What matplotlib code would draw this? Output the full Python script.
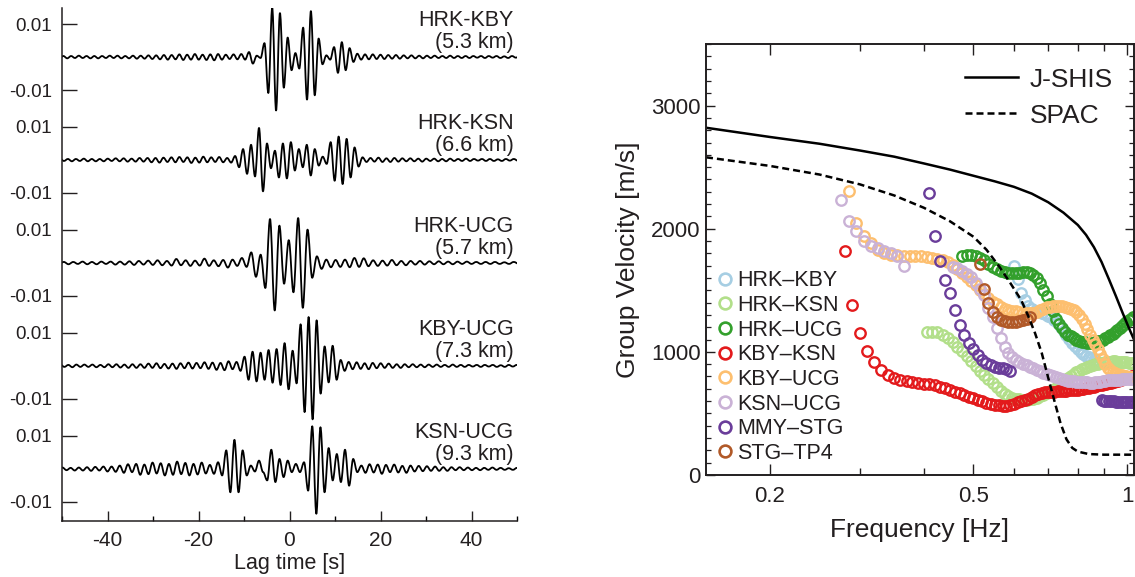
import numpy as np
import matplotlib.pyplot as plt
from matplotlib.lines import Line2D
from matplotlib.path import Path
from matplotlib.patches import PathPatch

plt.rcParams['font.family'] = ['Liberation Sans', 'DejaVu Sans']
plt.rcParams['axes.unicode_minus'] = False
ink = '#231f20'

# ---------------- left panel: cross-correlation traces ----------------
# amplitudes (x1e-3) read at successive wave extrema, left to right
pair_names = ['HRK-KBY', 'HRK-KSN', 'HRK-UCG', 'KBY-UCG', 'KSN-UCG']
pair_dists = ['(5.3 km)', '(6.6 km)', '(5.7 km)', '(7.3 km)', '(9.3 km)']
peak_lag = [-3.8, -6.7, 1.9, 4.2, 5.0]          # lag of largest positive peak [s]
half_period = [0.85, 0.875, 1.03, 0.88, 0.9]    # spacing of extrema [s]

amp_hrk_kby = [0.3, -0.3, 0.4, -0.3, 0.3, -0.4, 0.3, -0.3, 0.4, -0.3, 0.3, -0.4, 0.3, -0.4, 0.3, -0.3,
               0.4, -0.3, 0.4, -0.4, 0.3, -0.4, 0.4, -0.5, 0.4, -0.5,
               0.5, -0.6, 0.5, -0.7, 0.6, -0.8, 0.6, -0.7, 0.8, -0.9, 0.7, -0.8, 0.9, -0.8, 0.7, -0.9,
               0.8, -1.0, 0.9, -0.8, 0.7, -0.6, 0.8, -0.7,
               0.9, -0.8, 1.5, -2.0, 0.4, -0.3, 4.2, -10.9, 14.9, -16.2, 13.3, -9.3, 5.9, -4.0, 1.2, -3.5,
               8.9, -12.9, 13.9, -11.6, 5.6, -2.2, 0.5, -0.8, 3.0, -4.8, 4.5, -4.0, 2.7, -1.5, 1.0, -0.8,
               0.8, -0.7, 0.8, -0.6, 0.7, -0.6, 0.6, -0.5, 0.6, -0.5, 0.5, -0.4, 0.5, -0.4, 0.4, -0.4,
               0.4, -0.3, 0.4, -0.3, 0.3, -0.3, 0.4, -0.3, 0.3, -0.3, 0.3, -0.3, 0.3, -0.2, 0.3, -0.3,
               0.3, -0.2, 0.3, -0.3, 0.2, -0.3, 0.3, -0.2, 0.3, -0.3, 0.2, -0.2, 0.3]
amp_hrk_ksn = [-0.3, 0.3, -0.4, 0.3, -0.3, 0.4, -0.3, 0.4, -0.3, 0.3, -0.4, 0.3, -0.3, 0.4, -0.4, 0.3,
               -0.4, 0.3, -0.4, 0.4, -0.3, 0.5, -0.4, 0.5, -0.5, 0.4,
               -0.5, 0.6, -0.5, 0.6, -0.7, 0.6, -0.8, 0.7, -0.6, 0.8, -0.7, 0.9, -0.6, 0.8, -0.9, 0.7,
               -0.8, 1.0, -0.7, 0.8, -0.6, 0.9, -0.7, 0.6,
               -0.8, 1.2, -2.2, 3.3, -4.2, 4.6, -5.0, 9.7, -9.5, 5.0, -2.5, 2.8, -5.3, 5.0, -5.6, 5.4,
               -3.2, 3.3, -2.2, 4.6, -4.7, 3.3, -1.7, 1.0, -1.2, 5.4, -6.3, 7.1, -7.3, 6.4, -5.3, 3.8,
               -2.0, 0.8, -0.6,
               0.6, -0.5, 0.7, -0.6, 0.5, -0.6, 0.6, -0.5, 0.5, -0.4, 0.5, -0.4, 0.4, -0.5, 0.4, -0.3,
               0.4, -0.4, 0.3, -0.4, 0.4, -0.3, 0.3, -0.3, 0.4, -0.3, 0.3, -0.2, 0.3, -0.3, 0.3, -0.3,
               0.2, -0.3, 0.3, -0.2, 0.3, -0.2, 0.3, -0.3]
amp_hrk_ucg = [0.3, -0.3, 0.3, -0.4, 0.3, -0.3, 0.4, -0.3, 0.3, -0.4, 0.3, -0.3, 0.4, -0.4, 0.3, -0.4,
               0.4, -0.3, 0.4, -0.5, 0.4, -0.5, 0.5, -0.6,
               0.6, -0.5, 0.7, -0.6, 0.8, -0.7, 0.6, -0.8, 1.2, -0.7, 0.8, -0.9, 0.7, -0.8, 1.3, -0.9,
               0.8, -1.0, 0.9, -1.4, 1.0, -0.9, 1.5, -1.2,
               3.2, -4.2, 2.5, -7.6, 13.3, -14.4, 11.3, -6.3, 6.9, -8.9, 13.6, -13.6, 10.1, -4.5, 2.0, -1.8,
               1.0, -1.3, 0.9, -1.2,
               1.0, -1.3, 1.5, -1.2, 1.4, -1.0, 0.8, -0.9, 0.7, -0.8, 0.9, -0.7, 0.6, -0.7, 0.6, -0.5,
               0.6, -0.5, 0.5, -0.4, 0.5, -0.4, 0.4, -0.4, 0.4, -0.3, 0.4, -0.3, 0.3, -0.3, 0.3, -0.3,
               0.3, -0.3, 0.2, -0.3, 0.3, -0.2, 0.3, -0.2, 0.3, -0.3]
amp_kby_ucg = [-0.3, 0.3, -0.4, 0.3, -0.3, 0.4, -0.3, 0.3, -0.4, 0.4, -0.3, 0.4, -0.3, 0.4, -0.4, 0.3,
               -0.4, 0.5, -0.4, 0.5, -0.5, 0.4, -0.6, 0.5, -0.6, 0.5,
               -0.6, 0.7, -0.6, 0.8, -0.7, 0.6, -0.8, 0.7, -0.9, 0.8, -0.7, 1.0, -0.8, 0.9, -0.7, 1.1,
               -0.9, 1.0, -1.2, 0.9, -1.3, 1.4, -1.0, 1.2,
               -1.5, 2.8, -4.2, 4.3, -4.7, 4.0, -4.2, 4.8, -5.1, 5.1, -5.8, 6.9, -7.1, 4.6, -5.3, 12.6,
               -14.0, 14.8, -16.2, 13.8, -8.4, 5.9, -5.0, 6.1, -4.2, 1.8, -1.5,
               1.2, -1.0, 1.1, -0.9, 0.8, -1.0, 0.9, -0.7, 0.8, -0.6, 0.7, -0.6, 0.5, -0.6, 0.5, -0.4,
               0.5, -0.4, 0.4, -0.4, 0.4, -0.3, 0.4, -0.3, 0.3, -0.3, 0.4, -0.3, 0.3, -0.3, 0.3, -0.2,
               0.3, -0.3, 0.3, -0.2, 0.3, -0.3, 0.2, -0.3, 0.3, -0.2, 0.3, -0.3, 0.2, -0.3]
amp_ksn_ucg = [0.3, -0.3, 0.4, -0.3, 0.3, -0.4, 0.3, -0.4, 0.4, -0.3, 0.4, -0.4, 0.3, -0.5, 0.4, -0.5,
               0.5, -0.6, 0.6, -0.5, 0.7, -0.8, 0.7, -0.9,
               1.0, -1.2, 1.4, -1.0, 1.5, -1.8, 1.3, -1.6, 1.9, -1.4, 1.7, -2.0, 1.5, -1.8, 2.2, -1.6,
               1.8, -2.0, 1.5, -1.7, 1.9, -1.4,
               1.2, -1.5, 2.0, -2.0, 5.6, -7.1, 8.8, -7.1, 5.6, -2.0, 1.0, -0.8, 2.5, -1.0, -3.5, 5.8,
               -4.0, 3.0, -2.5, 2.5, -1.0, 1.5, -1.0, 2.0, -6.6, 12.9, -13.6, 12.6, -7.1, 6.3, -3.5, 4.5,
               -4.0, 5.8, -5.1, 3.0, -1.0, 1.0,
               -1.2, 1.4, -1.1, 1.3, -1.5, 1.2, -1.0, 1.3, -1.1, 0.9, -1.2, 1.0, -0.8, 0.9, -0.7, 0.8,
               -0.6, 0.7, -0.6, 0.5, -0.6, 0.5, -0.4, 0.5, -0.4, 0.4, -0.4, 0.3, -0.4, 0.3, -0.3, 0.4,
               -0.3, 0.3, -0.3, 0.2, -0.3, 0.3, -0.2, 0.3]
trace_amps = [amp_hrk_kby, amp_hrk_ksn, amp_hrk_ucg, amp_kby_ucg, amp_ksn_ucg]

# ---------------- right panel: group velocity dispersion ----------------
jshis_f = [0.15, 0.2, 0.25, 0.3, 0.35, 0.4, 0.45, 0.5, 0.55, 0.6, 0.65, 0.7, 0.75, 0.8, 0.83,
           0.86, 0.89, 0.92, 0.95, 0.98, 1.01, 1.03]
jshis_v = [2820, 2745, 2690, 2635, 2585, 2530, 2480, 2430, 2385, 2340, 2285, 2215, 2130, 2030, 1950,
           1850, 1730, 1590, 1450, 1310, 1180, 1100]
spac_f = [0.15, 0.2, 0.25, 0.3, 0.35, 0.4, 0.45, 0.5, 0.53, 0.56, 0.59, 0.62, 0.64, 0.66, 0.68,
          0.7, 0.72, 0.74, 0.76, 0.78, 0.8, 0.84, 0.9, 1.03]
spac_v = [2580, 2510, 2440, 2360, 2270, 2170, 2060, 1935, 1830, 1700, 1560, 1420, 1290, 1150, 990,
          790, 600, 420, 290, 220, 190, 170, 165, 165]

pair_labels = ['HRK–KBY', 'HRK–KSN', 'HRK–UCG', 'KBY–KSN', 'KBY–UCG', 'KSN–UCG', 'MMY–STG', 'STG–TP4']
pair_colors = ['#a6cee3', '#b2df8a', '#33a02c', '#e31a1c', '#fdbf6f', '#cab2d6', '#6a3d9a', '#b15928']
# first frequency of each series; samples every 0.01 Hz
f_start = [0.60, 0.405, 0.475, 0.28, 0.285, 0.275, 0.41, 0.515]
nan = np.nan
gv_hrk_kby = [1700, 1590, 1480, 1420, 1370, 1345, 1335, 1325, 1315, 1305, 1295, 1280, 1260, 1235,
              1205, 1172, 1138, 1105, 1075, 1048, 1022, 1002, 985, 970, 956, 945, 936, 928]
gv_hrk_ksn = [1160, 1165, 1158, 1140, 1112, 1080, 1042, 1003, 963, 924, 885, 848, 812, 778, 745,
              712, 684, 660, 640, 627, 619, 614, 612, 612, 615, 621, 629, 639, 651, 664, 679, 694,
              709, 725, 744, 764, 784, 803, 819, 834, 847, 859, 869, 879, 887, 893, 899, 904, 909,
              913, 917, 919, 921, 922, 922, 921, 920, 918, 916, 914, 912, 910, 908]
gv_hrk_ucg = [1780, 1785, 1785, 1780, 1765, 1745, 1715, 1690, 1670, 1655, 1648, 1642, 1640, 1640,
              1642, 1645, 1645, 1640, 1628, 1600, 1560, 1505, 1450, 1390, 1330, 1270, 1225, 1190,
              1160, 1140, 1125, 1110, 1098, 1090, 1082, 1076, 1072, 1070, 1072, 1078, 1085, 1092,
              1100, 1110, 1122, 1135, 1148, 1162, 1176, 1192, 1208, 1224, 1240, 1255, 1270, 1285]
gv_kby_ksn = [1820, 1380, 1155, 1005, 915, 855, 815, 790, 775, 762, 752, 745, 740, 737, 728, 718,
              705, 692, 678, 664, 650, 637, 622, 610, 598, 585, 575, 568, 565, 562, 560, 565, 575,
              590, 600, 610, 620, 635, 648, 658, 665, 670, 674, 677, 678, 680, 681, 683, 685, 688,
              690, 692, 694, 697, 700, 705, 710, 714, 718, 722, 727, 732, 737, 742, 746, 750, 755,
              760, 766, 772, 778, 784, 790, 795, 800, 805]
gv_kby_ucg = [2310, 2050, 1940, 1885, 1830, 1800, 1790, 1785, 1780, 1780, 1778, 1775, 1770, 1765,
              1758, 1748, 1730, 1705, 1672, 1640, 1610, 1575, 1545, 1505, 1470, 1438, 1405, 1385,
              1365, 1352, 1342, 1335, 1330, 1325, 1318, 1315, 1315, 1318, 1325, 1340, 1352, 1362,
              1368, 1372, 1373, 1372, 1370, 1366, 1360, 1352, 1340, 1322, 1300, 1268, 1230, 1185,
              1140, 1100, 1060, 1020, 980, 940, 900, 870, 850, 838, 830, 822, 815, 810, 805, 800,
              797, 795, 793]
gv_ksn_ucg = [2236, 2060, 1978, 1897, 1856, 1843, 1820, 1800, 1775, 1694,
              nan, nan, nan, nan, nan, nan, nan, nan,
              1690, 1680, 1660, 1635, 1605, 1560, 1510, 1460, 1360, 1280, 1190, 1110, 1040, 990,
              955, 935, 920, 905, 890, 880, 868, 855, 843, 830, 820, 810, 800, 792, 785, 778, 772,
              766, 762, 760, 758, 756, 755, 754, 752, 750, 750, 752, 755, 758, 762, 765, 768, 770,
              772, 773, 774, 775, 776, 776, 776, 776, 776, 776]
gv_mmy_stg = [2290, 1943, 1734, 1585, 1480, 1340, 1220, 1140, 1075, 1025, 975, 935, 908, 890, 878,
              870, 866, 860, 848] + [nan] * 29 + \
             [605, 603, 601, 600, 598, 597, 596, 595, 594, 593, 592, 592, 591, 590, 590]
gv_stg_tp4 = [1710, 1510, 1395, 1320, 1285, 1262, 1252, 1246, 1243, 1244, 1248, 1256, 1266, 1280]
group_vel = [gv_hrk_kby, gv_hrk_ksn, gv_hrk_ucg, gv_kby_ksn, gv_kby_ucg, gv_ksn_ucg, gv_mmy_stg,
             gv_stg_tp4]


def wave_path(t, a):
    # smooth curve through the extrema: flat tangent at every peak/trough
    verts = [(t[0], a[0])]
    codes = [Path.MOVETO]
    for i in range(len(t) - 1):
        d = t[i + 1] - t[i]
        verts += [(t[i] + 0.36 * d, a[i]), (t[i + 1] - 0.36 * d, a[i + 1]), (t[i + 1], a[i + 1])]
        codes += [Path.CURVE4] * 3
    return Path(verts, codes)


W, H = 1135, 577
fig = plt.figure(figsize=(W / 100, H / 100), dpi=100)

# ---- left ----
ax1 = fig.add_axes([62 / W, 1 - 521 / H, 455 / W, 513 / H])
step = 0.0312
for k, amps in enumerate(trace_amps):
    a = np.array(amps) * 1e-3
    i0 = int(np.argmax(a))
    t = peak_lag[k] + half_period[k] * (np.arange(len(a)) - i0)
    off = -k * step
    ax1.add_patch(PathPatch(wave_path(t, a + off), fill=False, edgecolor='black', lw=1.3,
                            joinstyle='round'))
    ax1.text(49.3, off + 0.0111, pair_names[k], ha='right', va='center', fontsize=15.5, color=ink)
    ax1.text(49.3, off + 0.0045, pair_dists[k], ha='right', va='center', fontsize=15.5, color=ink)

ax1.set_xlim(-50, 50)
ax1.set_ylim(-4 * step - 0.0158, 0.01485)
yt, yl = [], []
for k in range(5):
    yt += [-k * step + 0.01, -k * step - 0.01]
    yl += ['0.01', '-0.01']
ax1.set_yticks(yt)
ax1.set_yticklabels(yl)
ax1.set_xticks([-40, -20, 0, 20, 40])
ax1.set_xticks([-50, -30, -10, 10, 30, 50], minor=True)
ax1.tick_params(axis='y', direction='in', length=10.5, width=1.0, labelsize=13.5, pad=7, colors=ink)
ax1.tick_params(axis='x', which='major', direction='in', length=7, width=1.0, labelsize=15, pad=7,
                colors=ink)
ax1.tick_params(axis='x', which='minor', direction='in', length=3.6, width=1.0)
for s in ['top', 'right']:
    ax1.spines[s].set_visible(False)
for s in ['left', 'bottom']:
    ax1.spines[s].set_linewidth(1.1)
    ax1.spines[s].set_color(ink)
ax1.set_xlabel('Lag time [s]', fontsize=15.5, color=ink, labelpad=2)

# ---- right ----
ax2 = fig.add_axes([706 / W, 1 - 475 / H, 428 / W, 431 / H])
ax2.set_xscale('log')
handles = []
for lab, col, f0, v in zip(pair_labels, pair_colors, f_start, group_vel):
    f = f0 + 0.01 * np.arange(len(v))
    ax2.plot(f, v, ls='none', marker='o', ms=7.5, mfc='none', mec=col, mew=1.7)
    handles.append(Line2D([], [], ls='none', marker='o', ms=8.5, mfc='none', mec=col, mew=1.9,
                          label=lab))
l_js, = ax2.plot(jshis_f, jshis_v, color='black', lw=1.8, label='J-SHIS')
l_sp, = ax2.plot(spac_f, spac_v, color='black', lw=1.8, ls=(0, (2.8, 1.6)), label='SPAC')

ax2.set_xlim(0.15, 1.03)
ax2.set_ylim(0, 3500)
ax2.set_xticks([0.2, 0.5, 1.0])
ax2.set_xticklabels(['0.2', '0.5', '1'])
ax2.set_xticks([0.3, 0.4, 0.6, 0.7, 0.8, 0.9], minor=True)
ax2.set_xticklabels([], minor=True)
ax2.set_yticks([0, 1000, 2000, 3000])
ax2.set_yticks(np.arange(0, 3501, 100), minor=True)
ax2.tick_params(axis='both', which='both', direction='in', top=True, right=True, colors=ink,
                labelsize=16)
ax2.tick_params(axis='x', which='major', length=8, width=1.0, pad=8)
ax2.tick_params(axis='x', which='minor', length=5, width=1.0)
ax2.tick_params(axis='y', which='major', length=6.5, width=1.0, pad=4)
ax2.tick_params(axis='y', which='minor', length=3.6, width=0.9)
for s in ax2.spines.values():
    s.set_linewidth(1.4)
    s.set_color(ink)
ax2.set_xlabel('Frequency [Hz]', fontsize=19, color=ink, labelpad=8)
ax2.set_ylabel('Group Velocity [m/s]', fontsize=19, color=ink, labelpad=8)

leg1 = ax2.legend(handles=[l_js, l_sp], loc='upper left', bbox_to_anchor=(0.605, 0.945),
                  frameon=False, fontsize=19, handlelength=2.0, handletextpad=0.45,
                  labelspacing=0.45, borderpad=0, borderaxespad=0)
for t in leg1.get_texts():
    t.set_color(ink)
ax2.add_artist(leg1)
leg2 = ax2.legend(handles=handles, loc='upper left', bbox_to_anchor=(0.024, 0.475),
                  frameon=False, fontsize=15.5, handlelength=0.8, handletextpad=0.16,
                  labelspacing=0.17, borderpad=0, borderaxespad=0)
for t in leg2.get_texts():
    t.set_color(ink)

fig.savefig('out.png', dpi=100, facecolor='white')
